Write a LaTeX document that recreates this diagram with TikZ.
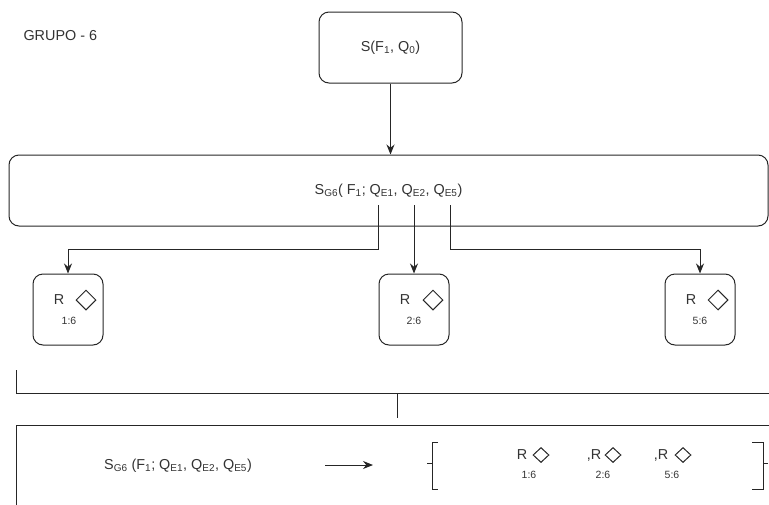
\documentclass[tikz,border=0pt]{standalone}
\usepackage{fontspec}
\setmainfont{Liberation Sans}
\usepackage{tikz}
\usetikzlibrary{shapes.geometric, arrows.meta, positioning}

\begin{document}
\begin{tikzpicture}[
    x=1pt, y=-1pt,
    every node/.style={font=\fontsize{14.4}{16}\selectfont, text=black!80},
    box/.style={rectangle, rounded corners=10pt, draw=black!85, line width=1pt,
                inner sep=0pt, align=center},
    rbox/.style={box, minimum width=70pt, minimum height=71pt},
    diam/.style={diamond, draw=black!85, line width=1pt, inner sep=0pt,
                 minimum width=20pt, minimum height=20pt},
    sdiam/.style={diam, minimum width=16pt, minimum height=15pt},
    small/.style={font=\fontsize{10.5}{12}\selectfont},
    line/.style={draw=black!85, line width=1pt},
    arr/.style={line, -{Stealth[length=10pt, width=8pt]}}
]
\clip (0,0) rectangle (769,504);

% top
\node[anchor=west] (grupo) at (20,36) {GRUPO - 6};
\node[box, minimum width=143pt, minimum height=71pt] (s0) at (390.5,47.5)
    {S(F\textsubscript{1}, Q\textsubscript{0})};
\node[box, minimum width=759pt, minimum height=71pt] (sg6) at (388.5,190.5)
    {S\textsubscript{G6}( F\textsubscript{1}; Q\textsubscript{E1}, Q\textsubscript{E2}, Q\textsubscript{E5})};
\draw[arr] (s0.south) -- (s0.south |- sg6.north);

% tirada de cada Q
\coordinate (q1) at (378,205);
\coordinate (q2) at (414,205);
\coordinate (q3) at (450,205);

\node[rbox] (r1) at (68,309.5) {};
\node[rbox] (r2) at (414,309.5) {};
\node[rbox] (r3) at (700,309.5) {};

\node (r1R) at (59,300) {R};
\node[diam] (r1d) at (86,300) {};
\node[small] (r1n) at (69,321) {1:6};
\node (r2R) at (405,300) {R};
\node[diam] (r2d) at (433,300) {};
\node[small] (r2n) at (414,321) {2:6};
\node (r3R) at (691,300) {R};
\node[diam] (r3d) at (718,300) {};
\node[small] (r3n) at (700,321) {5:6};

\draw[arr] (q1) -- ++(0,44) -| (r1.north);
\draw[arr] (q2) -- (r2.north);
\draw[arr] (q3) -- ++(0,44) -| (r3.north);

% llave
\coordinate (k1) at (16,370);
\coordinate (k2) at (775,393);
\coordinate (k3) at (397,393);
\coordinate (k4) at (397,418);
\draw[line] (k1) |- (k2);
\draw[line] (k3) -- (k4);

% resultado
\node[rectangle, draw=black!85, line width=1pt, anchor=north west,
      minimum width=780pt, minimum height=100pt] (res) at (16,425) {};
\node (sgb) at (178,466)
    {S\textsubscript{G6} (F\textsubscript{1}; Q\textsubscript{E1}, Q\textsubscript{E2}, Q\textsubscript{E5})};
\coordinate (a1) at (325,465);
\coordinate (a2) at (373,465);
\draw[arr] (a1) -- (a2);

\draw[line] (438,442) -- (432.5,442) -- (432.5,489) -- (438,489);
\draw[line] (427,463) -- (432.5,463);
\draw[line] (752,442) -- (763,442) -- (763,489) -- (752,489);
\draw[line] (763,463) -- (768,463);

\node (b1R) at (522,455) {R};
\node[sdiam] (b1d) at (541,455) {};
\node[small] (b1n) at (529,475) {1:6};
\node (b2R) at (594,455) {,R};
\node[sdiam] (b2d) at (613,455) {};
\node[small] (b2n) at (603,475) {2:6};
\node (b3R) at (661,455) {,R};
\node[sdiam] (b3d) at (683,455) {};
\node[small] (b3n) at (672,475) {5:6};
\end{tikzpicture}
\end{document}
